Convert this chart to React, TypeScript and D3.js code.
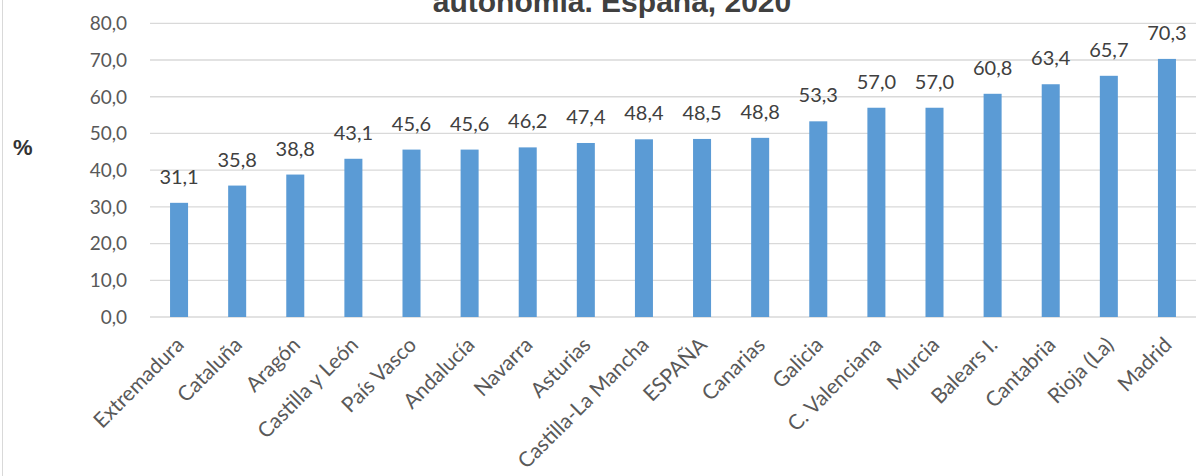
import React from "react";
import * as d3 from "d3";

const categories = [
  "Extremadura", "Cataluña", "Aragón", "Castilla y León", "País Vasco", "Andalucía",
  "Navarra", "Asturias", "Castilla-La Mancha", "ESPAÑA", "Canarias", "Galicia",
  "C. Valenciana", "Murcia", "Balears I.", "Cantabria", "Rioja (La)", "Madrid",
];
const values = [31.1, 35.8, 38.8, 43.1, 45.6, 45.6, 46.2, 47.4, 48.4, 48.5, 48.8, 53.3, 57.0, 57.0, 60.8, 63.4, 65.7, 70.3];
const yTicks = [0, 10, 20, 30, 40, 50, 60, 70, 80];
const title = "autonomía. España, 2020";
const yLabel = "%";

const W = 1200;
const H = 476;
const M = { left: 150, right: 4, top: 23.3, bottom: 159 };

const fmt = (v: number) => v.toFixed(1).replace(".", ",");

export default function App() {
  const x = d3.scaleBand<string>().domain(categories).range([M.left, W - M.right]).paddingInner(0.69).paddingOuter(0.345);
  const y = d3.scaleLinear().domain([0, 80]).range([H - M.bottom, M.top]);
  const font = "Lato, 'Open Sans', sans-serif";
  return (
    <svg width={W} height={H} style={{ position: "absolute", left: 0, top: 0, background: "#fff" }}>
      <rect x={0} y={0} width={W} height={H} fill="#fff" />
      <line x1={2.5} x2={2.5} y1={0} y2={H} stroke="#d9d9d9" strokeWidth={1} />
      <text x={612} y={12} textAnchor="middle" fontFamily="'Liberation Sans', Arial, sans-serif" fontWeight="bold" fontSize={30} fill="#404040">{title}</text>
      <text x={13} y={155} fontFamily="'Liberation Sans', Arial, sans-serif" fontWeight="bold" fontSize={22} fill="#333">{yLabel}</text>
      {yTicks.map((t) => (
        <g key={t}>
          <line x1={M.left} x2={W - M.right} y1={y(t)} y2={y(t)} stroke="#d9d9d9" strokeWidth={1.3} />
          <text x={127} y={y(t)} dy="0.36em" textAnchor="end" fontFamily={font} fontSize={19} fill="#595959">{fmt(t)}</text>
        </g>
      ))}
      {categories.map((c, i) => {
        const bx = x(c)!;
        const bw = x.bandwidth();
        const cx = bx + bw / 2;
        return (
          <g key={c}>
            <rect x={bx} y={y(values[i])} width={bw} height={y(0) - y(values[i])} fill="#5B9BD5" />
            <text x={cx} y={y(values[i]) - 19} textAnchor="middle" fontFamily={font} fontSize={20} fill="#404040">{fmt(values[i])}</text>
            <text transform={`translate(${cx + 1},${341}) rotate(-45)`} dy="0.35em" textAnchor="end" fontFamily={font} fontSize={21} fill="#595959">{c}</text>
          </g>
        );
      })}
    </svg>
  );
}
